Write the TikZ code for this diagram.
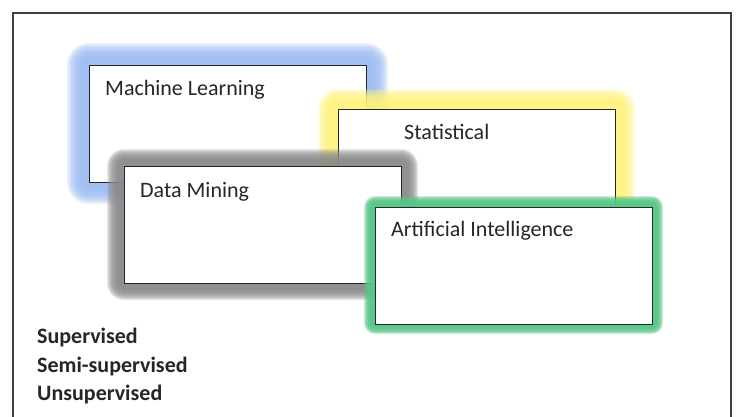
\documentclass[tikz,border=0pt]{standalone}
\usepackage{fontspec}
\setmainfont{Carlito}
\definecolor{mlblue}{HTML}{9BBCF3}
\definecolor{styellow}{HTML}{FFF37E}
\definecolor{dmgray}{HTML}{8A8A8A}
\definecolor{aigreen}{HTML}{58C787}
\definecolor{txt}{HTML}{262626}
\newcommand{\glowrect}[7]{% nw, se, color, plateau, outer, opacity, yoffset
  \foreach \i in {1,...,12}{
    \pgfmathsetmacro{\dd}{#4+(#5-#4)*\i/12}
    \fill[#3, fill opacity=#6, rounded corners=\dd pt, yshift=-#7 pt]
      ([xshift=-\dd pt, yshift=\dd pt]#1) rectangle ([xshift=\dd pt, yshift=-\dd pt]#2);
  }}
\begin{document}
\begin{tikzpicture}[x=1pt, y=-1pt,
  box/.style={draw=black!85, fill=white, line width=1.1pt, minimum width=277pt,
    minimum height=117pt, anchor=north west, inner sep=0pt},
  lbl/.style={anchor=base west, inner sep=0pt, text=txt, font=\fontsize{22}{26}\selectfont},
  blbl/.style={anchor=base west, inner sep=0pt, text=txt, font=\fontsize{22}{26}\selectfont\bfseries},
  frame/.style={draw=black!75, line width=1.2pt}]
\useasboundingbox (0,0) rectangle (738,416);
\fill[white] (0,0) rectangle (738,416);
\coordinate (fbl) at (13,420);
\coordinate (ftl) at (13,13);
\coordinate (ftr) at (731,13);
\coordinate (fbr) at (731,420);
\draw[frame] (fbl) -- (ftl) -- (ftr) -- (fbr);
% Machine Learning
\coordinate (mlNW) at (89,65);
\coordinate (mlSE) at (366,182);
\glowrect{mlNW}{mlSE}{mlblue}{6}{22}{0.19}{0}
\node[box] (ml) at (mlNW) {};
\node[lbl] (mlt) at (105,95) {Machine Learning};
% Statistical
\coordinate (stNW) at (338,109);
\coordinate (stSE) at (615,226);
\glowrect{stNW}{stSE}{styellow}{6}{20}{0.2}{0}
\node[box] (st) at (stNW) {};
\node[lbl] (stt) at (404,139) {Statistical};
% Data Mining
\coordinate (dmNW) at (124,166);
\coordinate (dmSE) at (401,283);
\glowrect{dmNW}{dmSE}{dmgray}{5}{17}{0.2}{3}
\node[box] (dm) at (dmNW) {};
\node[lbl] (dmt) at (140,197) {Data Mining};
% Artificial Intelligence
\coordinate (aiNW) at (375,207);
\coordinate (aiSE) at (652,323);
\glowrect{aiNW}{aiSE}{aigreen}{3}{11}{0.25}{0}
\node[box] (ai) at (aiNW) {};
\node[lbl] (ait) at (391,236) {Artificial Intelligence};
% bold list
\node[blbl] (sup) at (37,343) {Supervised};
\node[blbl] (semi) at (37,372) {Semi-supervised};
\node[blbl] (unsup) at (37,400) {Unsupervised};
\end{tikzpicture}
\end{document}
